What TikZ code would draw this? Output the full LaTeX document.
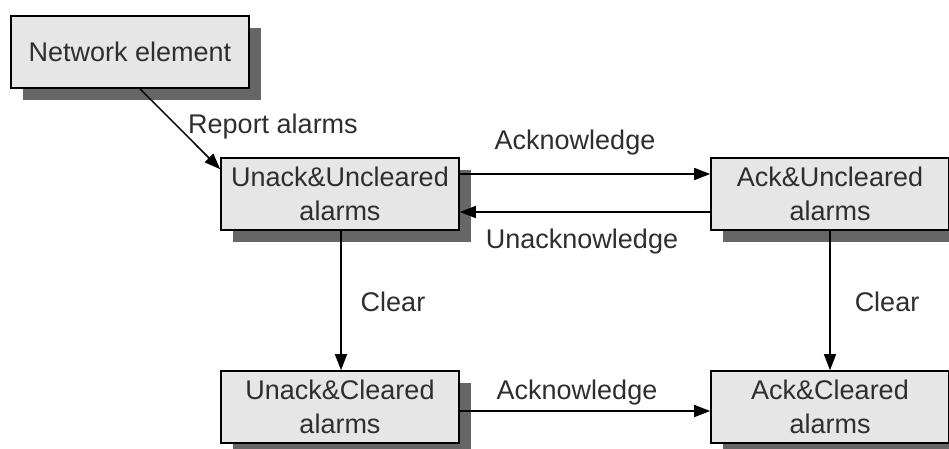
\documentclass[tikz,border=0pt]{standalone}
\usepackage{fontspec}
\setmainfont{Liberation Sans}
\usetikzlibrary{arrows.meta,shadows,calc}
\definecolor{boxfill}{HTML}{E6E6E6}
\definecolor{boxshadow}{HTML}{666666}
\definecolor{txt}{HTML}{2E2E2E}
\begin{document}
\begin{tikzpicture}[x=1pt,y=-1pt,
  state/.style={draw=black,line width=1.6pt,fill=boxfill,text=txt,
    minimum width=238pt,minimum height=72pt,inner sep=0pt,align=center,
    font=\fontsize{27}{34}\selectfont,
    general shadow={fill=boxshadow,shadow xshift=12pt,shadow yshift=-12pt}},
  flow/.style={draw=black,line width=1.5pt,-{Triangle[length=16pt,width=12pt]}},
  lbl/.style={text=txt,inner sep=0pt,font=\fontsize{27}{34}\selectfont}]
\useasboundingbox (0,0) rectangle (949,448);
% states
\node[state] (ne) at (130,52) {Network element};
\node[state] (uu) at (340,194) {Unack\&Uncleared\\alarms};
\node[state] (au) at (830,194) {Ack\&Uncleared\\alarms};
\node[state] (uc) at (340,407) {Unack\&Cleared\\alarms};
\node[state] (ac) at (830,407) {Ack\&Cleared\\alarms};
% transitions
\draw[flow] ([xshift=10pt]ne.south) -- ([yshift=-12pt]uu.north west);
\draw[flow] ([yshift=20pt]uu.east) -- ([yshift=20pt]au.west);
\draw[flow] ([yshift=-18pt]au.west) -- ([yshift=-18pt]uu.east);
\draw[flow] ([xshift=1pt]uu.south) -- ([xshift=1pt]uc.north);
\draw[flow] (au.south) -- (ac.north);
\draw[flow] ([yshift=-4pt]uc.east) -- ([yshift=-4pt]ac.west);
% labels
\node[lbl] (lrep) at (273,127) {Report alarms};
\node[lbl] (lack1) at (575,143) {Acknowledge};
\node[lbl] (lunack) at (582,242) {Unacknowledge};
\node[lbl] (lclr1) at (393,302) {Clear};
\node[lbl] (lclr2) at (887,302) {Clear};
\node[lbl] (lack2) at (577,393) {Acknowledge};
\end{tikzpicture}
\end{document}
